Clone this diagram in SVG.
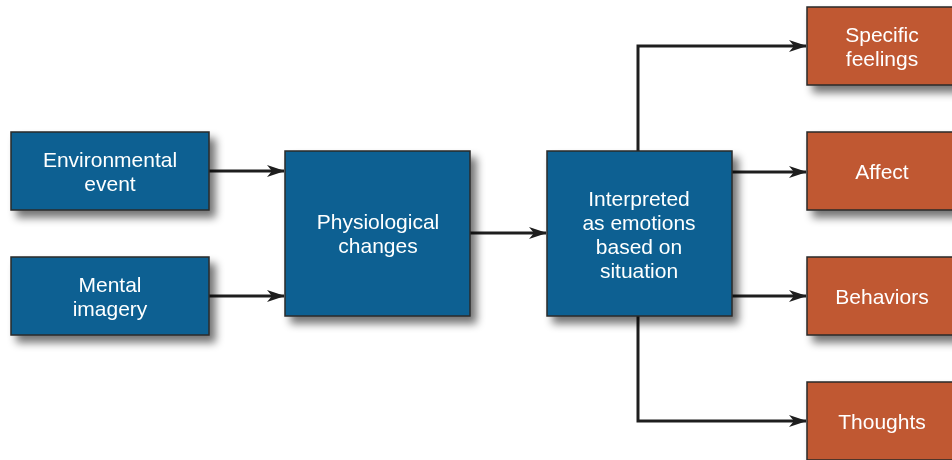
<svg xmlns="http://www.w3.org/2000/svg" width="952" height="460" viewBox="0 0 952 460">
<style>
.blue{fill:#0a6192;stroke:#2a2a2a;stroke-width:1.5}
.orange{fill:#c05833;stroke:#2a2a2a;stroke-width:1.5}
.t{font-family:"Liberation Sans",Arial,sans-serif;font-size:21px;fill:#ffffff;text-anchor:middle}
.c{fill:none;stroke:#1e1e1e;stroke-width:3}
</style>
<defs>
<filter id="sh" x="-20%" y="-20%" width="150%" height="160%">
<feGaussianBlur in="SourceAlpha" stdDeviation="4"/>
<feOffset dx="6" dy="7"/>
<feComponentTransfer><feFuncA type="linear" slope="0.55"/></feComponentTransfer>
<feMerge><feMergeNode/><feMergeNode in="SourceGraphic"/></feMerge>
</filter>
<marker id="ar" viewBox="0 0 18 12" refX="17" refY="6" markerWidth="18" markerHeight="12" markerUnits="userSpaceOnUse" orient="auto">
<path d="M0,0 L18,6 L0,12 L5,6 Z" fill="#1e1e1e"/>
</marker>
</defs>
<rect width="952" height="460" fill="#ffffff"/>
<g id="connectors">
<path class="c" d="M209,171 H284" marker-end="url(#ar)"/>
<path class="c" d="M209,296 H284" marker-end="url(#ar)"/>
<path class="c" d="M470,233 H546" marker-end="url(#ar)"/>
<path class="c" d="M638,151 V46 H806" marker-end="url(#ar)"/>
<path class="c" d="M732,172 H806" marker-end="url(#ar)"/>
<path class="c" d="M732,296 H806" marker-end="url(#ar)"/>
<path class="c" d="M638,316 V421 H806" marker-end="url(#ar)"/>
</g>
<g id="environmental" filter="url(#sh)">
<rect class="blue" x="11" y="132" width="198" height="78"/>
<text class="t" x="110" y="167">Environmental</text>
<text class="t" x="110" y="191">event</text>
</g>
<g id="mental" filter="url(#sh)">
<rect class="blue" x="11" y="257" width="198" height="78"/>
<text class="t" x="110" y="292">Mental</text>
<text class="t" x="110" y="316">imagery</text>
</g>
<g id="physiological" filter="url(#sh)">
<rect class="blue" x="285" y="151" width="185" height="165"/>
<text class="t" x="378" y="229">Physiological</text>
<text class="t" x="378" y="253">changes</text>
</g>
<g id="interpreted" filter="url(#sh)">
<rect class="blue" x="547" y="151" width="185" height="165"/>
<text class="t" x="639" y="206">Interpreted</text>
<text class="t" x="639" y="230">as emotions</text>
<text class="t" x="639" y="254">based on</text>
<text class="t" x="639" y="278">situation</text>
</g>
<g id="specific" filter="url(#sh)">
<rect class="orange" x="807" y="7" width="160" height="78"/>
<text class="t" x="882" y="42">Specific</text>
<text class="t" x="882" y="66">feelings</text>
</g>
<g id="affect" filter="url(#sh)">
<rect class="orange" x="807" y="132" width="160" height="78"/>
<text class="t" x="882" y="179">Affect</text>
</g>
<g id="behaviors" filter="url(#sh)">
<rect class="orange" x="807" y="257" width="160" height="78"/>
<text class="t" x="882" y="304">Behaviors</text>
</g>
<g id="thoughts" filter="url(#sh)">
<rect class="orange" x="807" y="382" width="160" height="78"/>
<text class="t" x="882" y="429">Thoughts</text>
</g>
</svg>
